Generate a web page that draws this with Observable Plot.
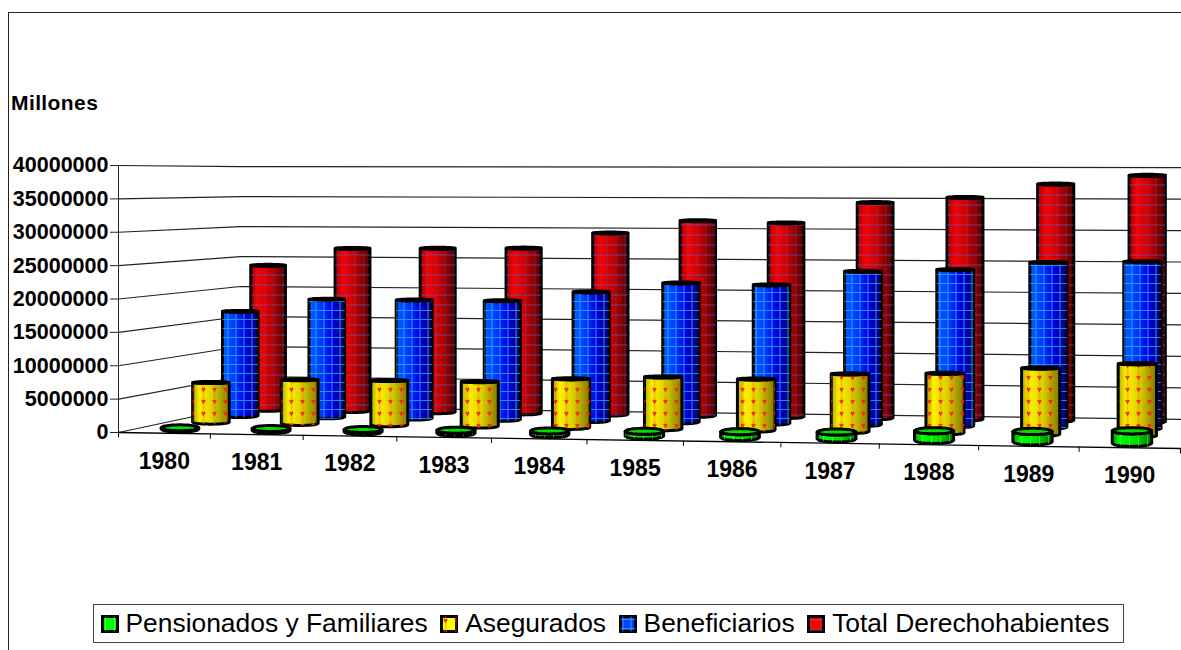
<!DOCTYPE html>
<html><head><meta charset="utf-8">
<script src="https://cdn.jsdelivr.net/npm/d3@7"></script>
<script src="https://cdn.jsdelivr.net/npm/@observablehq/plot@0.6"></script>
<style>
html,body{margin:0;padding:0;background:#fff;width:1181px;height:650px;overflow:hidden;font-family:"Liberation Sans",Arial,sans-serif}
#frame{position:absolute;left:8px;top:12px;right:0;bottom:0;border-left:1.5px solid #222;border-top:1.5px solid #222;pointer-events:none}
#unit{position:absolute;left:11px;top:91px;font:bold 21px "Liberation Sans",Arial,sans-serif;letter-spacing:.4px;color:#000}
#chart{position:absolute;left:0;top:0}
#legend{position:absolute;left:93px;top:604px;width:1031px;height:39px;box-sizing:border-box;border:1.5px solid #444;display:flex;align-items:center;padding-left:6.5px;font:26.4px "Liberation Sans",Arial,sans-serif;color:#000;white-space:nowrap;background:#fff}
#legend svg{margin-right:7px;flex:none}
#legend span{margin-right:12.5px}
</style></head><body>
<svg width="0" height="0" style="position:absolute">
<defs>
<linearGradient id="g-red"><stop offset="0" stop-color="#a00000"/><stop offset=".22" stop-color="#f80000"/><stop offset=".55" stop-color="#c80000"/><stop offset="1" stop-color="#500000"/></linearGradient>
<linearGradient id="g-blue"><stop offset="0" stop-color="#0060ff"/><stop offset=".3" stop-color="#0040ff"/><stop offset=".65" stop-color="#0000e0"/><stop offset="1" stop-color="#000070"/></linearGradient>
<linearGradient id="g-yellow"><stop offset="0" stop-color="#b0a800"/><stop offset=".2" stop-color="#fff000"/><stop offset=".55" stop-color="#dcd000"/><stop offset="1" stop-color="#807800"/></linearGradient>
<linearGradient id="g-green"><stop offset="0" stop-color="#00a000"/><stop offset=".2" stop-color="#00ff00"/><stop offset=".6" stop-color="#00e000"/><stop offset="1" stop-color="#007000"/></linearGradient>
<pattern id="p-red" width="9" height="10" patternUnits="userSpaceOnUse"><path d="M0 5H9" stroke="#7050b0" stroke-width="1" opacity=".7"/><path d="M4 0V10" stroke="#7050b0" stroke-width="1" opacity=".3"/></pattern>
<pattern id="p-blue" width="8" height="9" patternUnits="userSpaceOnUse"><path d="M0 4.5H8M4 0V9" stroke="#30b0ff" stroke-width="1.1" opacity=".75"/></pattern>
<pattern id="p-yellow" width="11" height="12" patternUnits="userSpaceOnUse"><path d="M5.5 0V12" stroke="#f08000" stroke-width="2" opacity=".4"/><path d="M4 4l1.5 2.5L7 4" stroke="#f02810" stroke-width="1.8" fill="none"/></pattern>
<pattern id="p-green" width="9" height="9" patternUnits="userSpaceOnUse"><path d="M4.5 0V9" stroke="#60ff60" stroke-width="1" opacity=".5"/></pattern>
</defs></svg>
<div id="chart"></div>
<div id="frame"></div>
<div id="unit">Millones</div>
<div id="legend"></div>
<script>
const years = [1980,1981,1982,1983,1984,1985,1986,1987,1988,1989,1990];
const pensionados = [200000,300000,350000,450000,550000,700000,850000,1000000,1400000,1500000,1800000];
const asegurados = [6200000,6800000,6850000,6850000,7450000,7900000,7750000,8700000,8950000,9900000,10700000];
const beneficiarios = [16700000,18750000,18750000,18750000,20250000,21750000,21550000,23750000,24100000,25300000,25500000];
const total = [23700000,26550000,26650000,26750000,29250000,31300000,31000000,34300000,35150000,37300000,38700000];
const seriesNames = ["Pensionados y Familiares","Asegurados","Beneficiarios","Total Derechohabientes"];
const yTicks = [0,5000000,10000000,15000000,20000000,25000000,30000000,35000000,40000000];
const seriesValues = [pensionados,asegurados,beneficiarios,total];
const seriesKeys = ["green","yellow","blue","red"];
const rimFill = {green:"#00e000",yellow:"#000",blue:"#000",red:"#000"};
const topRadius = {green:3,yellow:1.2,blue:1.2,red:1.2};
const baseRadius = {green:3,yellow:2,blue:2,red:2};
const keyFill = {green:"#00ff00",yellow:"#ffff00",blue:"#0040ff",red:"#ff0000"};

// Perspective of the chart box: floor corners in (year-slot, value) plot units.
const M = 1e6, PX = 267/40;
const FL=[0,0], FR=[11,-2.4*M], BR=[11.155,1.95*M], BL=[1.264,3.9*M];
const DEPTH=4, SPAN=11;
const sy=y=>y/M;
const [x0,y0,x1,y1,x2,y2,x3,y3]=[FL[0],sy(FL[1]),FR[0],sy(FR[1]),BR[0],sy(BR[1]),BL[0],sy(BL[1])];
const dx1=x1-x2,dx2=x3-x2,sxx=x0-x1+x2-x3,dy1=y1-y2,dy2=y3-y2,syy=y0-y1+y2-y3;
const det=dx1*dy2-dx2*dy1;
const g=(sxx*dy2-dx2*syy)/det,h=(dx1*syy-sxx*dy1)/det;
const a=x1-x0+g*x1,b=x3-x0+h*x3,c=x0,d=y1-y0+g*y1,e=y3-y0+h*y3,f=y0;
function project(u,v,val){
  const s=u/SPAN,t=v/DEPTH,w=g*s+h*t+1;
  return {x:(a*s+b*t+c)/w, y:((d*s+e*t+f)+val/M)/w*M, k:1/w};
}

const cylinders=[];
seriesKeys.forEach((key,row)=>{
  years.forEach((yr,i)=>{
    cylinders.push({key,row,yr,i,value:seriesValues[row][i]});
  });
});
const samples=d3.range(-1,1.0001,0.1);
function outline(key){
  const pts=[];
  for(const cy of cylinders.filter(c=>c.key===key)){
    const base=project(cy.i+.5,cy.row+.5,0), top=project(cy.i+.5,cy.row+.5,cy.value);
    const rx=.197*base.k, ryT=topRadius[key]/PX*M*base.k, ryB=baseRadius[key]/PX*M*base.k;
    for(const s of samples){
      const q=Math.sqrt(Math.max(0,1-s*s));
      pts.push({id:cy.yr,x:base.x+rx*s,bot:base.y-ryB*q,topLow:top.y-ryT*q,topHigh:top.y+ryT*q});
    }
  }
  return pts;
}
function cylinderMarks(key){
  const pts=outline(key);
  return [
    Plot.area(pts,{x1:"x",y1:"bot",y2:"topLow",z:"id",fill:`url(#g-${key})`,stroke:"#000",strokeWidth:3,strokeLinejoin:"round"}),
    Plot.area(pts,{x1:"x",y1:"bot",y2:"topLow",z:"id",fill:`url(#p-${key})`}),
    Plot.area(pts,{x1:"x",y1:"topLow",y2:"topHigh",z:"id",fill:rimFill[key],stroke:"#000",strokeWidth:key==="green"?3:2.6,strokeLinejoin:"round"})
  ];
}
const wall=yTicks.flatMap(t=>[[0,0],[0,DEPTH],[SPAN*1.1,DEPTH]].map(([u,v])=>{const p=project(u,v,t);return {t,x:p.x,y:p.y};}));
const floorFront=[[0,0],[SPAN,0]].map(([u,v])=>project(u,v,0));
const tickMarks=d3.range(0,12).map(i=>project(i,0,0));
const yearLabels=years.map((yr,i)=>{const p=project(i+.5,0,0);return {yr,x:p.x,y:p.y};});

const chart=Plot.plot({
  width:1181,height:650,marginLeft:118,marginRight:1,marginTop:165,marginBottom:218,
  style:{background:"transparent",overflow:"hidden"},
  x:{domain:[0,11],axis:null},
  y:{domain:[0,40000000]},
  marks:[
    Plot.line(wall,{x:"x",y:"y",z:"t",stroke:"#222",strokeWidth:1.2}),
    Plot.axisY({ticks:yTicks,tickFormat:d=>String(d),label:null,tickSize:8,tickPadding:2,stroke:"#222",fontSize:21.5,fontWeight:"bold",fontFamily:"Liberation Sans, Arial, sans-serif",fill:"#000"}),
    Plot.ruleX([0],{y1:0,y2:40000000,stroke:"#222"}),
    Plot.line(floorFront,{x:"x",y:"y",stroke:"#000",strokeWidth:1.3}),
    Plot.ruleX(tickMarks,{x:"x",y1:"y",y2:d=>d.y-0.8*M,stroke:"#000"}),
    ...["red","blue","yellow","green"].flatMap(cylinderMarks),
    Plot.text(yearLabels,{x:"x",y:"y",text:d=>String(d.yr),dy:28,fontSize:23,fontWeight:"bold",fontFamily:"Liberation Sans, Arial, sans-serif",fill:"#000"})
  ]
});
document.getElementById("chart").append(chart);
const legend=document.getElementById("legend");
const NS="http://www.w3.org/2000/svg";
seriesNames.forEach((n,i)=>{
  const key=seriesKeys[i];
  const s=document.createElementNS(NS,"svg");
  s.setAttribute("width",18);s.setAttribute("height",18);
  for(const fill of [keyFill[key],`url(#p-${key})`]){
    const r=document.createElementNS(NS,"rect");
    r.setAttribute("x",1.5);r.setAttribute("y",1.5);r.setAttribute("width",15);r.setAttribute("height",15);
    r.setAttribute("fill",fill);r.setAttribute("stroke",fill===keyFill[key]?"#000":"none");r.setAttribute("stroke-width",3);
    s.append(r);
  }
  const t=document.createElement("span");t.textContent=n;
  legend.append(s,t);
});
</script></body></html>
